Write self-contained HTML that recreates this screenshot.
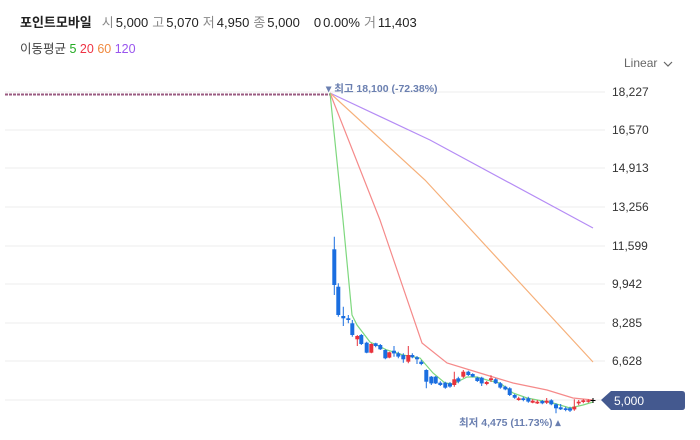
<!DOCTYPE html>
<html><head><meta charset="utf-8"><style>
body{margin:0;width:700px;height:435px;background:#fff;overflow:hidden;font-family:"Liberation Sans","Noto Sans CJK KR",sans-serif}
</style></head><body>
<svg width="700" height="435" xmlns="http://www.w3.org/2000/svg" font-family="Liberation Sans, Noto Sans CJK KR, sans-serif">
<text x="20" y="27" font-size="13" fill="#222"><tspan font-weight="bold">포인트모바일</tspan><tspan fill="#888" dx="10">시</tspan><tspan dx="2">5,000</tspan><tspan fill="#888" dx="4">고</tspan><tspan dx="2">5,070</tspan><tspan fill="#888" dx="4">저</tspan><tspan dx="2">4,950</tspan><tspan fill="#888" dx="4">종</tspan><tspan dx="2">5,000</tspan><tspan dx="14">0</tspan><tspan dx="2">0.00%</tspan><tspan fill="#888" dx="4">거</tspan><tspan dx="2">11,403</tspan></text>
<text x="20" y="53" font-size="12.5" fill="#444">이동평균 <tspan fill="#22aa22">5</tspan> <tspan fill="#ee3344">20</tspan> <tspan fill="#f08a40">60</tspan> <tspan fill="#9955ee">120</tspan></text>
<text x="624" y="67" font-size="12" fill="#666">Linear</text>
<path d="M664 62 l4 4 l4 -4" stroke="#666" fill="none" stroke-width="1.2"/>
<g stroke="#eeeeee" stroke-width="1">
<line x1="5" y1="92" x2="605" y2="92"/><line x1="5" y1="130" x2="605" y2="130"/><line x1="5" y1="168" x2="605" y2="168"/><line x1="5" y1="207" x2="605" y2="207"/><line x1="5" y1="246" x2="605" y2="246"/><line x1="5" y1="284" x2="605" y2="284"/><line x1="5" y1="323" x2="605" y2="323"/><line x1="5" y1="361" x2="605" y2="361"/><line x1="5" y1="400" x2="605" y2="400"/>
</g>
<g font-size="12" fill="#333">
<text x="612" y="96">18,227</text><text x="612" y="134">16,570</text><text x="612" y="172">14,913</text><text x="612" y="211">13,256</text><text x="612" y="250">11,599</text><text x="612" y="288">9,942</text><text x="612" y="327">8,285</text><text x="612" y="365">6,628</text>
</g>
<line x1="5" y1="94.5" x2="330" y2="94.5" stroke="#9a5a80" stroke-width="2" stroke-dasharray="3,1"/>
<g fill="none" stroke-width="1.2">
<polyline stroke="#b58cf5" points="330,93 430,140 593,228"/>
<polyline stroke="#f6b07a" points="330,93 425,180 462,220 593,362"/>
<polyline stroke="#f58a8a" points="330,93 380,220 422,343 447,363 470,370 493,377 513,383 547,390 573,398 593,400"/>
<polyline stroke="#7ed87e" points="330,93 343,220 352,315 357,325 370,342 387,350 403,355 420,358 433,373 445,383 453,384 467,377 477,377 487,380 500,383 513,393 527,398 553,403 570,408 583,405 593,402"/>
</g>
<g stroke="#1a6ee0" stroke-width="1">
<path d="M334.3 236.7V295M338.3 283.3V316.7M343.3 306.7V326M348.3 315V323.3M352.3 320V336.7M361.3 334V345M366.7 341.7V353.3M375.7 342.7V347.3M380.3 344V350M385.3 349.3V359.3M394 346V356.7M398.3 351.7V358.3M403.3 353.3V362.7M412.3 353.3V358.3M417 356V364M421.3 360V365.3M426.3 369.3V388.3M431.3 376V385M435.7 376V384M440.3 381.3V386M445.3 381.7V388.7M450 382V387.7M458.3 376.7V383.3M468.3 370.7V376M472.7 373.3V377.3M477.3 376.7V382M481.7 376.7V386M495.7 378.3V384M500.3 382V388.7M505.3 385.7V390.3M509.7 387.3V396M514.7 394V398.7M523.3 396.7V401.3M528.3 396.7V402.7M542.3 400V404.3M551.3 399.3V405.3M556 403.3V413.3M560.7 404V410M565.7 406.7V411.3M570 406.7V412"/>
</g>
<g fill="#1a6ee0">
<rect x="332.3" y="249.3" width="4" height="35.7"/><rect x="336.3" y="286.7" width="4" height="28.3"/><rect x="341.3" y="316" width="4" height="2.3"/><rect x="346.3" y="318.3" width="4" height="1.7"/><rect x="350.3" y="323.3" width="4" height="11.7"/><rect x="359.3" y="335" width="4" height="9"/><rect x="364.7" y="342.7" width="4" height="10"/><rect x="373.7" y="343.3" width="4" height="2.7"/><rect x="378.3" y="345" width="4" height="4.3"/><rect x="383.3" y="350" width="4" height="8.3"/><rect x="392" y="350.7" width="4" height="2.7"/><rect x="396.3" y="353.3" width="4" height="3.3"/><rect x="401.3" y="355" width="4" height="4.3"/><rect x="410.3" y="355" width="4" height="2.3"/><rect x="415" y="357.3" width="4" height="2"/><rect x="419.3" y="361.7" width="4" height="2.3"/><rect x="424.3" y="370" width="4" height="11.7"/><rect x="429.3" y="376.7" width="4" height="6.7"/><rect x="433.7" y="376.7" width="4" height="6.7"/><rect x="438.3" y="382.7" width="4" height="2.3"/><rect x="443.3" y="382.7" width="4" height="5"/><rect x="448" y="383.3" width="4" height="3.3"/><rect x="456.3" y="378.3" width="4" height="3.3"/><rect x="466.3" y="371.7" width="4" height="3.3"/><rect x="470.7" y="374" width="4" height="2.7"/><rect x="475.3" y="377.7" width="4" height="3.3"/><rect x="479.7" y="377.7" width="4" height="5.7"/><rect x="493.7" y="379.3" width="4" height="4"/><rect x="498.3" y="383.3" width="4" height="4.3"/><rect x="503.3" y="386.7" width="4" height="2.7"/><rect x="507.7" y="388.3" width="4" height="6.7"/><rect x="512.7" y="395" width="4" height="2.7"/><rect x="521.3" y="398.3" width="4" height="1.7"/><rect x="526.3" y="398.3" width="4" height="3.3"/><rect x="540.3" y="401" width="4" height="2.3"/><rect x="549.3" y="400.3" width="4" height="4"/><rect x="554" y="404.3" width="4" height="4"/><rect x="558.7" y="407.3" width="4" height="2"/><rect x="563.7" y="408.3" width="4" height="1.7"/><rect x="568" y="408.3" width="4" height="2.3"/>
</g>
<g stroke="#e8333d" stroke-width="1">
<path d="M357.3 335V346M371.3 343.3V353.3M389.3 351.7V358.3M408.3 346V363.3M454.3 371.7V386.7M463.3 370V378M486.7 381V385.3M491 375.3V382M518.7 396.7V400.7M532.7 399.3V403.3M537.3 400V404M546.7 398V404M574.3 399.3V410.7M578.7 400V405.3M583.3 399.3V403.3M588.3 399.3V402.7"/>
</g>
<g fill="#e8333d">
<rect x="355.3" y="336" width="4" height="3.3"/><rect x="369.3" y="344" width="4" height="8.7"/><rect x="387.3" y="352.3" width="4" height="5.3"/><rect x="406.3" y="355" width="4" height="6.7"/><rect x="452.3" y="379.3" width="4" height="5.7"/><rect x="461.3" y="371.7" width="4" height="5"/><rect x="484.7" y="382" width="4" height="2"/><rect x="489" y="378.3" width="4" height="1.7"/><rect x="516.7" y="398.3" width="4" height="1.7"/><rect x="530.7" y="400.7" width="4" height="2"/><rect x="535.3" y="401.7" width="4" height="1.7"/><rect x="544.7" y="400.7" width="4" height="2"/><rect x="572.3" y="406.7" width="4" height="2.7"/><rect x="576.7" y="401.7" width="4" height="1.7"/><rect x="581.3" y="400.3" width="4" height="1.7"/><rect x="586.3" y="400.3" width="4" height="1.5"/>
</g>
<path d="M590.5 400.5h5M593 398v5" stroke="#000" stroke-width="1"/>
<text x="326" y="92" font-size="10.5" fill="#6a7fb0" font-weight="bold">▾ 최고 18,100 (-72.38%)</text>
<text x="459" y="426" font-size="10.5" fill="#6a7fb0" font-weight="bold">최저 4,475 (11.73%) ▴</text>
<path d="M601 400 L611 391 H682 Q685 391 685 394 V407 Q685 410 682 410 H611 Z" fill="#44598f"/>
<text x="614" y="405" font-size="12" fill="#fff">5,000</text>
</svg>
</body></html>
